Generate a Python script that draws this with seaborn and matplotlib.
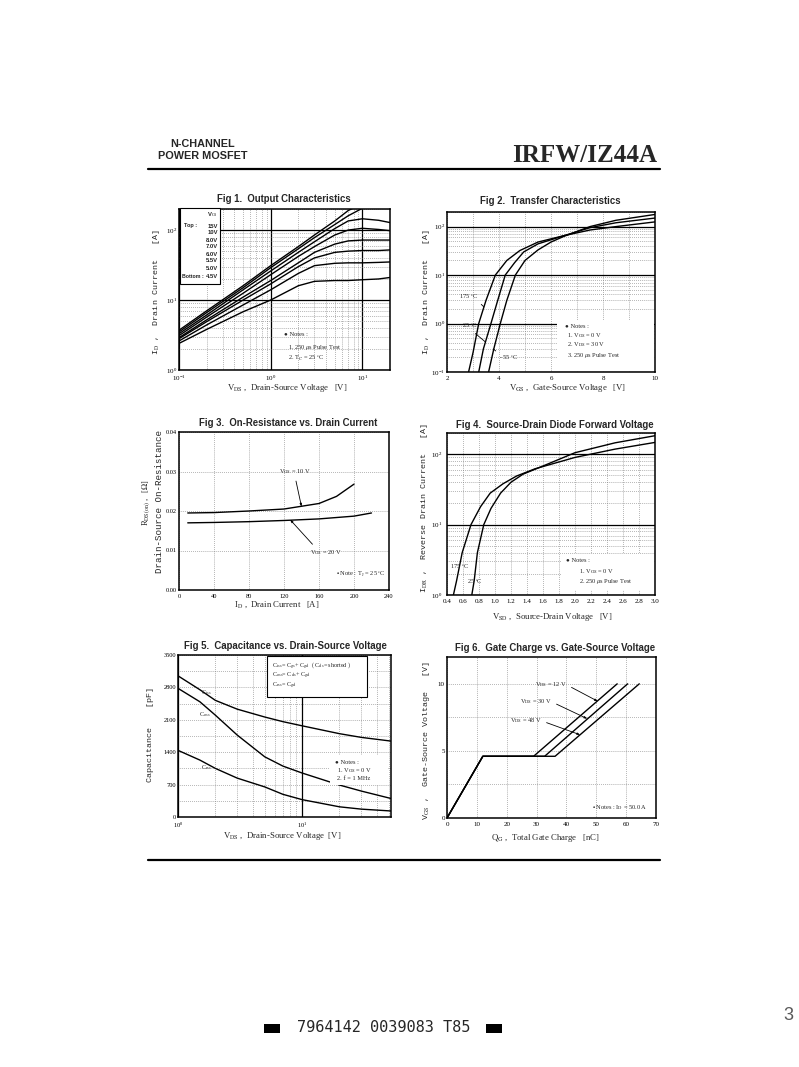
import numpy as np
import pandas as pd
import matplotlib
matplotlib.use('Agg')
import matplotlib.pyplot as plt
import matplotlib.ticker as mticker
from matplotlib.patches import Rectangle
from matplotlib.lines import Line2D
import seaborn as sns

# Fig 1 - output characteristics, I_D [A] vs V_DS [V] for each V_GS step
vds_out = [0.1, 0.2, 0.5, 1, 2, 3, 5, 7, 10, 15, 20]
id_15v = [3.7, 7.0, 16, 31, 58, 85, 135, 190, 240, 280, 300]
id_10v = [3.5, 6.6, 15, 29, 54, 78, 120, 160, 205, 230, 240]
id_8v = [3.3, 6.1, 14, 26, 48, 68, 105, 135, 145, 138, 128]
id_7v = [3.1, 5.7, 12.5, 23, 42, 58, 85, 100, 106, 102, 98]
id_6v = [2.9, 5.2, 11, 19, 34, 48, 63, 70, 72, 72, 72]
id_55v = [2.8, 4.9, 10, 17, 30, 40, 48, 50, 51, 51, 52]
id_5v = [2.6, 4.4, 8.5, 14, 24, 31, 33.5, 34, 34, 34.5, 35]
id_45v = [2.4, 3.8, 6.8, 10, 16, 18.5, 19, 19, 19.5, 20, 21]
vgs_steps = ['15V', '10V', '8.0V', '7.0V', '6.0V', '5.5V', '5.0V', '4.5V']

# Fig 2 - transfer characteristics, I_D [A] vs V_GS [V]
vgs_175c = [2.83, 3.0, 3.22, 3.5, 3.86, 4.3, 4.8, 5.5, 6.5, 7.5, 8.5, 10]
id_175c = [0.1, 0.25, 1, 3, 10, 20, 32, 48, 65, 85, 100, 125]
vgs_25c = [3.22, 3.4, 3.69, 3.95, 4.24, 4.6, 4.95, 5.5, 6.5, 7.5, 8.5, 10]
id_25c = [0.1, 0.3, 1, 3, 10, 18, 30, 44, 65, 95, 120, 150]
vgs_m55c = [3.6, 3.8, 4.05, 4.3, 4.63, 5.0, 5.5, 6.0, 6.5, 7.5, 8.5, 10]
id_m55c = [0.1, 0.3, 1, 3, 10, 20, 33, 48, 63, 100, 135, 178]

# Fig 3 - on-resistance [ohm] vs I_D [A]
id_r10 = [10, 40, 80, 120, 160, 180, 200]
rds_10v = [0.0195, 0.0196, 0.0200, 0.0205, 0.0219, 0.0237, 0.0268]
id_r20 = [10, 40, 80, 120, 160, 200, 220]
rds_20v = [0.0170, 0.0171, 0.0173, 0.0176, 0.0180, 0.0187, 0.0195]

# Fig 4 - source-drain diode, I_DR [A] vs V_SD [V]
vsd_175c = [0.48, 0.52, 0.59, 0.70, 0.82, 0.94, 1.1, 1.27, 1.5, 2.0, 2.5, 3.0]
idr_175c = [1, 1.6, 4, 10, 18, 28, 38, 49, 62, 90, 118, 147]
vsd_25c = [0.71, 0.74, 0.78, 0.86, 0.95, 1.07, 1.2, 1.35, 1.6, 2.0, 2.5, 3.0]
idr_25c = [1, 1.6, 4, 10, 17, 28, 40, 52, 68, 105, 145, 183]

# Fig 5 - capacitance [pF] vs V_DS [V]
vds_cap = [1, 1.5, 2, 3, 5, 7, 10, 20, 30, 52]
c_iss = [3050, 2750, 2520, 2330, 2160, 2060, 1970, 1800, 1720, 1640]
c_oss = [2780, 2490, 2200, 1770, 1300, 1100, 950, 690, 560, 400]
c_rss = [1440, 1230, 1050, 840, 650, 490, 375, 220, 170, 130]

# Fig 6 - gate charge, V_GS [V] vs Q_G [nC]
qg_12v = [0, 12, 29.0, 57.0]
qg_30v = [0, 12, 32.7, 60.5]
qg_48v = [0, 12, 36.2, 64.4]
vgs_gate = [0, 4.6, 4.6, 10]

sns.set_theme(style='white')
SANS = ['Liberation Sans', 'DejaVu Sans']
SERIF = ['Liberation Serif', 'DejaVu Serif', 'DejaVu Sans']
MONO = ['Liberation Mono', 'DejaVu Sans Mono']
plt.rcParams['font.family'] = SERIF
plt.rcParams['mathtext.fontset'] = 'stix'

W, H = 799, 1067
fig = plt.figure(figsize=(W / 100, H / 100), dpi=100)
fig.patch.set_facecolor('white')


def px(x, y):
    return x / W, 1 - y / H


def add_ax(l, t, r, b):
    ax = fig.add_axes([l / W, 1 - b / H, (r - l) / W, (b - t) / H])
    return ax


def dotted(ax, axis, which='major'):
    ax.grid(True, axis=axis, which=which, color='0.45', lw=0.5, ls=(0, (1, 1.8)))


def solid(ax, axis, which='major'):
    ax.grid(True, axis=axis, which=which, color='black', lw=0.9, ls='-')


def finish(ax):
    ax.set_axisbelow(True)
    ax.set_xlabel('')
    ax.set_ylabel('')
    for sp in ax.spines.values():
        sp.set_color('black')
        sp.set_linewidth(1.1)
    ax.tick_params(which='major', direction='in', length=2, width=0.6,
                   labelsize=5, pad=1.5, colors='black')
    ax.tick_params(axis='x', which='major', pad=2.6)
    ax.tick_params(which='minor', length=0)


def note(x, y, s, size=4.6, **kw):
    fig.text(*px(x, y), s, fontsize=size, va='center', family=SERIF, **kw)


def blank(l, t, r, b):
    # white patch behind a notes block, covering the grid
    fig.patches.append(Rectangle(px(l, b), (r - l) / W, (b - t) / H,
                                 transform=fig.transFigure, facecolor='white',
                                 edgecolor='none', zorder=0.9))


def title(x, y, s):
    fig.text(*px(x, y), s, fontsize=6.9, fontweight='bold', family=SANS,
             ha='center', va='center')


def ylab(x, y, s, size=6.0, family=MONO):
    fig.text(*px(x, y), s, fontsize=size, family=family, rotation=90,
             ha='center', va='center')


def xlab(x, y, s, size=6.3):
    fig.text(*px(x, y), s, fontsize=size, family=SERIF, ha='center', va='center')


# ---------------- Fig 1 ----------------
ax1 = add_ax(179, 209, 390, 370)
out_df = pd.DataFrame({
    'vds': vds_out * len(vgs_steps),
    'id': id_15v + id_10v + id_8v + id_7v + id_6v + id_55v + id_5v + id_45v,
    'vgs': np.repeat(vgs_steps, len(vds_out)),
})
sns.lineplot(data=out_df, x='vds', y='id', hue='vgs', palette=['black'] * 8,
             estimator=None, sort=False, legend=False, lw=1.0, ax=ax1)
ax1.set_xscale('log')
ax1.set_yscale('log')
ax1.set_xlim(0.1, 20)
ax1.set_ylim(1, 200)
ax1.set_xticks([0.1, 1, 10])
ax1.set_yticks([1, 10, 100])
solid(ax1, 'both')
dotted(ax1, 'both', 'minor')
finish(ax1)
title(284, 199, 'Fig 1.  Output Characteristics')
ylab(157, 292, r'I$_\mathrm{D}$ ,  Drain Current   [A]')
xlab(287, 388, r'V$_\mathrm{DS}$ ,  Drain-Source Voltage   [V]')
fig.patches.append(Rectangle(px(180, 284), 40 / W, 76 / H, transform=fig.transFigure,
                             facecolor='white', edgecolor='black', lw=0.8, zorder=3))
leg_y = [226, 233, 240, 247, 254, 261, 268, 276]
fig.text(*px(218, 215), r'V$_\mathrm{GS}$', fontsize=4.2, family=SANS, ha='right',
         va='center', fontweight='bold', zorder=4)
for lab, yy in zip(vgs_steps, leg_y):
    fig.text(*px(218, yy), lab, fontsize=4.2, family=SANS, ha='right', va='center',
             fontweight='bold', zorder=4)
fig.text(*px(184, 226), 'Top :', fontsize=4.0, family=SANS, va='center',
         fontweight='bold', zorder=4)
fig.text(*px(182, 276), 'Bottom :', fontsize=3.8, family=SANS, va='center',
         fontweight='bold', zorder=4)
note(284, 334, '\u25cf Notes :')
note(288, 348, r'1. 250 $\mu$s Pulse Test')
note(288, 358, r'2. T$_\mathrm{C}$ = 25 $^{\circ}$C')

# ---------------- Fig 2 ----------------
ax2 = add_ax(447, 212, 655, 372)
tr_df = pd.DataFrame({
    'vgs': vgs_175c + vgs_25c + vgs_m55c,
    'id': id_175c + id_25c + id_m55c,
    'temp': ['175'] * len(vgs_175c) + ['25'] * len(vgs_25c) + ['-55'] * len(vgs_m55c),
})
sns.lineplot(data=tr_df, x='vgs', y='id', hue='temp', palette=['black'] * 3,
             estimator=None, sort=False, legend=False, lw=1.0, ax=ax2)
ax2.set_yscale('log')
ax2.set_xlim(2, 10)
ax2.set_ylim(0.1, 200)
ax2.set_yticks([0.1, 1, 10, 100])
ax2.xaxis.set_major_locator(mticker.MultipleLocator(2))
ax2.xaxis.set_minor_locator(mticker.MultipleLocator(1))
dotted(ax2, 'x', 'both')
solid(ax2, 'y')
dotted(ax2, 'y', 'minor')
finish(ax2)
blank(557, 321, 654, 371)
title(550, 201, 'Fig 2.  Transfer Characteristics')
ylab(426, 292, r'I$_\mathrm{D}$ ,  Drain Current   [A]')
xlab(568, 388, r'V$_\mathrm{GS}$ ,  Gate-Source Voltage   [V]')
ax2.annotate('175 $^{\\circ}$C', xy=(3.42, 2.2), xycoords='data', xytext=px(459, 297),
             textcoords='figure fraction', fontsize=4.6, va='center',
             arrowprops=dict(arrowstyle='-', lw=0.6, color='black', shrinkA=0, shrinkB=0,
                             relpos=(1, 0)))
ax2.annotate('25 $^{\\circ}$C', xy=(3.47, 0.42), xycoords='data', xytext=px(462, 326),
             textcoords='figure fraction', fontsize=4.6, va='center',
             arrowprops=dict(arrowstyle='-', lw=0.6, color='black', shrinkA=0, shrinkB=0,
                             relpos=(0.6, 0)))
ax2.annotate('- 55 $^{\\circ}$C', xy=(3.78, 0.3), xycoords='data', xytext=px(499, 358),
             textcoords='figure fraction', fontsize=4.6, va='center',
             arrowprops=dict(arrowstyle='-', lw=0.6, color='black', shrinkA=0, shrinkB=0,
                             relpos=(0, 1)))
note(565, 326, '\u25cf Notes :')
note(567, 336, r'1. V$_\mathrm{GS}$ = 0 V')
note(567, 345, r'2. V$_\mathrm{DS}$ = 30 V')
note(567, 355, r'3. 250 $\mu$s Pulse Test')

# ---------------- Fig 3 ----------------
ax3 = add_ax(179, 432, 389, 590)
ron_df = pd.DataFrame({
    'id': id_r10 + id_r20,
    'rds': rds_10v + rds_20v,
    'vgs': ['10'] * len(id_r10) + ['20'] * len(id_r20),
})
sns.lineplot(data=ron_df, x='id', y='rds', hue='vgs', palette=['black'] * 2,
             estimator=None, sort=False, legend=False, lw=1.0, ax=ax3)
ax3.set_xlim(0, 240)
ax3.set_ylim(0, 0.04)
ax3.set_xticks([0, 40, 80, 120, 160, 200, 240])
ax3.set_yticks([0, 0.01, 0.02, 0.03, 0.04])
ax3.yaxis.set_major_formatter(mticker.FormatStrFormatter('%.2f'))
dotted(ax3, 'both')
finish(ax3)
ax3.tick_params(labelsize=4.6)
title(288, 423, 'Fig 3.  On-Resistance vs. Drain Current')
ylab(147, 503, r'R$_\mathrm{DS(on)}$ ,   [$\Omega$]', size=6.0, family=SERIF)
ylab(160, 502, 'Drain-Source On-Resistance', size=6.6)
xlab(277, 605, r'I$_\mathrm{D}$ ,  Drain Current   [A]')
arrow_head = dict(arrowstyle='-|>,head_length=0.35,head_width=0.12', lw=0.6,
                  color='black', shrinkA=1, shrinkB=0)
ax3.annotate(r'V$_\mathrm{GS}$ = 10 V', xy=(140, 0.0211), xycoords='data',
             xytext=px(279, 472), textcoords='figure fraction', fontsize=4.6,
             va='center', arrowprops=dict(arrow_head, relpos=(0.5, 0)))
ax3.annotate(r'V$_\mathrm{GS}$ = 20 V', xy=(127, 0.0178), xycoords='data',
             xytext=px(310, 553), textcoords='figure fraction', fontsize=4.6,
             va='center', arrowprops=dict(arrow_head, relpos=(0.2, 1)))
note(336, 574, r'$\bullet$ Note : T$_\mathrm{J}$ = 25 $^{\circ}$C')

# ---------------- Fig 4 ----------------
ax4 = add_ax(447, 433, 655, 595)
sd_df = pd.DataFrame({
    'vsd': vsd_175c + vsd_25c,
    'idr': idr_175c + idr_25c,
    'temp': ['175'] * len(vsd_175c) + ['25'] * len(vsd_25c),
})
sns.lineplot(data=sd_df, x='vsd', y='idr', hue='temp', palette=['black'] * 2,
             estimator=None, sort=False, legend=False, lw=1.0, ax=ax4)
ax4.set_yscale('log')
ax4.set_xlim(0.4, 3.0)
ax4.set_ylim(1, 200)
ax4.set_yticks([1, 10, 100])
ax4.set_xticks(np.round(np.arange(0.4, 3.01, 0.2), 1))
ax4.xaxis.set_major_formatter(mticker.FormatStrFormatter('%.1f'))
dotted(ax4, 'x')
solid(ax4, 'y')
dotted(ax4, 'y', 'minor')
finish(ax4)
ax4.tick_params(axis='y', which='major', pad=3.5)
blank(562, 554, 654, 590)
title(555, 425, 'Fig 4.  Source-Drain Diode Forward Voltage')
ylab(424, 508, r'I$_\mathrm{DR}$ ,  Reverse Drain Current   [A]')
xlab(552, 617, r'V$_\mathrm{SD}$ ,  Source-Drain Voltage   [V]')
note(450, 567, '175 $^{\\circ}$C')
note(467, 582, '25 $^{\\circ}$C')
note(566, 560, '\u25cf Notes :')
note(579, 572, r'1. V$_\mathrm{GS}$ = 0 V')
note(579, 582, r'2. 250 $\mu$s Pulse Test')

# ---------------- Fig 5 ----------------
ax5 = add_ax(178, 655, 391, 817)
cap_df = pd.DataFrame({
    'vds': vds_cap * 3,
    'c': c_iss + c_oss + c_rss,
    'kind': ['iss'] * len(vds_cap) + ['oss'] * len(vds_cap) + ['rss'] * len(vds_cap),
})
sns.lineplot(data=cap_df, x='vds', y='c', hue='kind', palette=['black'] * 3,
             estimator=None, sort=False, legend=False, lw=1.0, ax=ax5)
ax5.set_xscale('log')
ax5.set_xlim(1, 52)
ax5.set_ylim(0, 3500)
ax5.set_xticks([1, 10])
ax5.set_yticks([0, 700, 1400, 2100, 2800, 3500])
ax5.yaxis.set_minor_locator(mticker.MultipleLocator(350))
solid(ax5, 'x')
dotted(ax5, 'x', 'minor')
dotted(ax5, 'y', 'both')
finish(ax5)
ax5.tick_params(labelsize=4.6)
blank(330, 755, 388, 785)
title(285, 646, 'Fig 5.  Capacitance vs. Drain-Source Voltage')
ylab(150, 735, 'Capacitance    [pF]')
xlab(282, 836, r'V$_\mathrm{DS}$ ,  Drain-Source Voltage  [V]')
fig.patches.append(Rectangle(px(267, 697), 100 / W, 41 / H, transform=fig.transFigure,
                             facecolor='white', edgecolor='black', lw=0.8, zorder=3))
fig.text(*px(272, 666), r'C$_\mathrm{iss}$= C$_\mathrm{gs}$+ C$_\mathrm{gd}$  ( C$_\mathrm{ds}$= shorted )',
         fontsize=4.4, family=SERIF, va='center', zorder=4)
fig.text(*px(272, 676), r'C$_\mathrm{oss}$= C$_\mathrm{ds}$+ C$_\mathrm{gd}$',
         fontsize=4.4, family=SERIF, va='center', zorder=4)
fig.text(*px(272, 686), r'C$_\mathrm{rss}$= C$_\mathrm{gd}$',
         fontsize=4.4, family=SERIF, va='center', zorder=4)
note(201, 693, r'C$_\mathrm{iss}$', size=4.4)
note(199, 715, r'C$_\mathrm{oss}$', size=4.4)
note(201, 768, r'C$_\mathrm{rss}$', size=4.4)
note(335, 762, '\u25cf Notes :')
note(337, 771, r'1. V$_\mathrm{GS}$ = 0 V')
note(337, 779, r'2. f = 1 MHz')

# ---------------- Fig 6 ----------------
ax6 = add_ax(447, 657, 656, 818)
gate_df = pd.DataFrame({
    'qg': qg_12v + qg_30v + qg_48v,
    'vgs': vgs_gate * 3,
    'vds': ['12'] * 4 + ['30'] * 4 + ['48'] * 4,
})
sns.lineplot(data=gate_df, x='qg', y='vgs', hue='vds', palette=['black'] * 3,
             estimator=None, sort=False, legend=False, lw=1.0, ax=ax6)
ax6.set_xlim(0, 70)
ax6.set_ylim(0, 12)
ax6.set_xticks([0, 10, 20, 30, 40, 50, 60, 70])
ax6.set_yticks([0, 5, 10])
ax6.yaxis.set_minor_locator(mticker.MultipleLocator(2.5))
dotted(ax6, 'x')
dotted(ax6, 'y', 'both')
finish(ax6)
title(555, 648, 'Fig 6.  Gate Charge vs. Gate-Source Voltage')
ylab(426, 740, r'V$_\mathrm{GS}$ ,  Gate-Source Voltage   [V]')
xlab(545, 838, r'Q$_\mathrm{G}$ ,  Total Gate Charge   [nC]')
ax6.annotate(r'V$_\mathrm{DS}$ = 12 V', xy=(50.5, 8.7), xycoords='data',
             xytext=px(567, 685), textcoords='figure fraction', fontsize=4.6,
             va='center', ha='right', arrowprops=dict(arrow_head, relpos=(1, 0.5)))
ax6.annotate(r'V$_\mathrm{DS}$ = 30 V', xy=(47.0, 7.4), xycoords='data',
             xytext=px(552, 702), textcoords='figure fraction', fontsize=4.6,
             va='center', ha='right', arrowprops=dict(arrow_head, relpos=(1, 0.5)))
ax6.annotate(r'V$_\mathrm{DS}$ = 48 V', xy=(44.6, 6.2), xycoords='data',
             xytext=px(542, 721), textcoords='figure fraction', fontsize=4.6,
             va='center', ha='right', arrowprops=dict(arrow_head, relpos=(1, 0.5)))
note(648, 808, r'$\bullet$ Notes : I$_\mathrm{D}$ = 50.0 A', ha='right')

# ---------------- page furniture ----------------
fig.text(*px(203, 144), 'N-CHANNEL', fontsize=7.8, fontweight='bold', family=SANS,
         ha='center', va='center')
fig.text(*px(203, 156), 'POWER MOSFET', fontsize=7.8, fontweight='bold', family=SANS,
         ha='center', va='center')
fig.text(*px(657, 155), 'IRFW/IZ44A', fontsize=18, fontweight='bold', family=SERIF,
         ha='right', va='center')
fig.add_artist(Line2D([148 / W, 660 / W], [1 - 169 / H] * 2, color='black', lw=1.6))
fig.add_artist(Line2D([148 / W, 660 / W], [1 - 860 / H] * 2, color='black', lw=1.6))

fig.patches.append(Rectangle(px(264, 1033), 16 / W, 9 / H, transform=fig.transFigure,
                             facecolor='black', edgecolor='none'))
fig.patches.append(Rectangle(px(486, 1033), 16 / W, 9 / H, transform=fig.transFigure,
                             facecolor='black', edgecolor='none'))
fig.text(*px(384, 1028), '7964142 0039083 T85', fontsize=11, family=['DejaVu Sans Mono'],
         ha='center', va='center')
fig.text(*px(788, 1016), '3', fontsize=13, family=SANS, color='0.35', ha='center',
         va='center')

fig.savefig('out.png', dpi=100, facecolor='white')
